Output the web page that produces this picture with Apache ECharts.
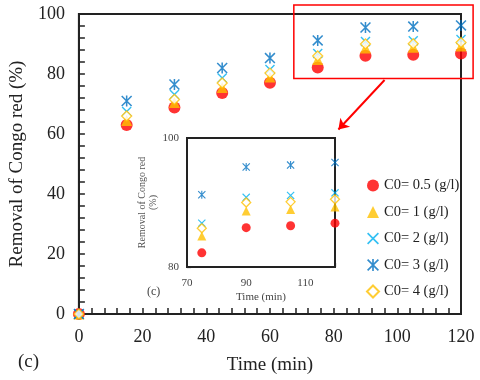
<!DOCTYPE html>
<html>
<head>
<meta charset="utf-8">
<script src="https://cdn.jsdelivr.net/npm/echarts@6/dist/echarts.min.js"></script>
<style>
  html, body { margin: 0; padding: 0; background: #fff; }
  #chart-container { width: 480px; height: 380px; }
</style>
</head>
<body>
<div id="chart-container"></div>
<script>
var dom = document.getElementById('chart-container');
var myChart = echarts.init(dom, null, { renderer: 'canvas' });

// time (min)
var times = [0, 15, 30, 45, 60, 75, 90, 105, 120];
// removal (%) for each initial dose
var c05 = [0, 63.0, 68.8, 73.7, 77.1, 82.2, 86.1, 86.4, 86.8];
var c1 = [0, 64.5, 70.5, 75.5, 79.0, 84.8, 88.7, 88.9, 89.3];
var c2 = [0, 67.5, 73.2, 78.7, 81.5, 86.8, 90.8, 91.1, 91.5];
var c3 = [0, 71.0, 76.5, 82.0, 85.3, 91.2, 95.5, 95.8, 96.2];
var c4 = [0, 66.0, 71.5, 77.0, 80.3, 86.0, 90.0, 90.1, 90.5];
var names = ['C0= 0.5 (g/l)', 'C0= 1 (g/l)', 'C0= 2 (g/l)', 'C0= 3 (g/l)', 'C0= 4 (g/l)'];

// zoom box (data units of the main plot) and arrow
var zoomBox = [[67.5, 103], [123.8, 78.5]];
var arrowFrom = [96, 78];
var arrowTo = [81.5, 61.5];

var crossPath = 'path://M0,1 L1,0 L10,9 L9,10 Z M9,0 L10,1 L1,10 L0,9 Z';
var starPath = 'path://M0,1 L1,0 L10,9 L9,10 Z M9,0 L10,1 L1,10 L0,9 Z M4.3,0 L5.7,0 L5.7,10 L4.3,10 Z';

var styles = [
  { symbol: 'circle', size: 12, inSize: 9, itemStyle: { color: '#ff0000' } },
  { symbol: 'triangle', size: 11, inSize: 9, itemStyle: { color: '#ffc000' } },
  { symbol: crossPath, size: 10, inSize: 8, itemStyle: { color: '#00b0f0' } },
  { symbol: starPath, size: 11, inSize: 8, itemStyle: { color: '#0070c0' } },
  { symbol: 'diamond', size: 10, inSize: 9, itemStyle: { color: '#fff', borderColor: '#ffc000', borderWidth: 1.3 } }
];
var values = [c05, c1, c2, c3, c4];

function pairs(arr, from) {
  var out = [];
  for (var i = 0; i < times.length; i++) {
    if (times[i] >= from) out.push([times[i], arr[i]]);
  }
  return out;
}

var serif = '"Liberation Serif", "DejaVu Serif", serif';
var series = [];
values.forEach(function (v, i) {
  series.push({
    type: 'scatter',
    name: names[i],
    xAxisIndex: 0,
    yAxisIndex: 0,
    data: pairs(v, 0),
    symbol: styles[i].symbol,
    symbolSize: styles[i].size,
    itemStyle: styles[i].itemStyle,
    clip: false,
    z: 3
  });
});
values.forEach(function (v, i) {
  series.push({
    type: 'scatter',
    name: names[i],
    xAxisIndex: 1,
    yAxisIndex: 1,
    data: pairs(v, 75),
    symbol: styles[i].symbol,
    symbolSize: styles[i].inSize,
    itemStyle: styles[i].itemStyle,
    clip: false,
    z: 6
  });
});

series[0].markLine = {
  silent: true,
  symbol: ['none', 'arrow'],
  symbolSize: 10,
  lineStyle: { color: '#ff0000', width: 2, type: 'solid' },
  label: { show: false },
  data: [[{ coord: arrowFrom }, { coord: arrowTo }]]
};

var axisCommon = {
  axisLine: { show: true, lineStyle: { color: '#222', width: 2 } },
  splitLine: { show: false }
};

var option = {
  animation: false,
  textStyle: { fontFamily: serif },
  grid: [
    { left: 78, right: 19, top: 14, bottom: 64, show: true, borderColor: '#222', borderWidth: 2 },
    { left: 187, right: 145, top: 138, bottom: 113, show: true, borderColor: '#222', borderWidth: 2, backgroundColor: '#fff', z: 5 }
  ],
  legend: {
    orient: 'vertical',
    left: 361,
    top: 173,
    itemWidth: 12,
    itemHeight: 12,
    itemGap: 11.5,
    data: names,
    textStyle: { fontFamily: serif, fontSize: 14.5, color: '#222' }
  },
  xAxis: [
    Object.assign({}, axisCommon, {
      type: 'value', gridIndex: 0, min: 0, max: 120, interval: 20,
      axisTick: { show: true, inside: true, length: 6, lineStyle: { color: '#222', width: 1.5 } },
      minorTick: { show: true, splitNumber: 5, length: 6, lineStyle: { color: '#222', width: 1.5 } },
      axisLabel: { fontFamily: serif, fontSize: 18, color: '#222', margin: 14 },
      name: 'Time (min)', nameLocation: 'middle', nameGap: 42,
      nameTextStyle: { fontFamily: serif, fontSize: 19, color: '#222' }
    }),
    Object.assign({}, axisCommon, {
      type: 'value', gridIndex: 1, min: 70, max: 120, interval: 20,
      axisLabel: { fontFamily: serif, fontSize: 11, color: '#444', margin: 11, showMaxLabel: false },
      axisTick: { show: true, inside: true, length: 4, lineStyle: { color: '#222', width: 1.2 } },
      minorTick: { show: true, splitNumber: 5, length: 4, lineStyle: { color: '#222', width: 1.2 } },
      name: 'Time (min)', nameLocation: 'middle', nameGap: 25,
      nameTextStyle: { fontFamily: serif, fontSize: 11, color: '#444' }
    })
  ],
  yAxis: [
    Object.assign({}, axisCommon, {
      type: 'value', gridIndex: 0, min: 0, max: 100, interval: 20,
      axisTick: { show: true, inside: true, length: 6, lineStyle: { color: '#222', width: 1.5 } },
      minorTick: { show: true, splitNumber: 5, length: 6, lineStyle: { color: '#222', width: 1.5 } },
      axisLabel: { fontFamily: serif, fontSize: 18, color: '#222', margin: 14 },
      name: 'Removal of Congo red (%)', nameLocation: 'middle', nameGap: 48,
      nameTextStyle: { fontFamily: serif, fontSize: 19, color: '#222' }
    }),
    Object.assign({}, axisCommon, {
      type: 'value', gridIndex: 1, min: 80, max: 100, interval: 20,
      axisTick: { show: true, inside: true, length: 4, lineStyle: { color: '#222', width: 1.2 } },
      minorTick: { show: true, splitNumber: 5, length: 4, lineStyle: { color: '#222', width: 1.2 } },
      axisLabel: { fontFamily: serif, fontSize: 11, color: '#444', margin: 8 },
      name: 'Removal of Congo red\n(%)', nameLocation: 'middle', nameGap: 26,
      nameTextStyle: { fontFamily: serif, fontSize: 10, color: '#555', lineHeight: 11 }
    })
  ],
  series: series
};

myChart.setOption(option);

// red zoom box, placed from data coords of the main plot
var p1 = myChart.convertToPixel({ gridIndex: 0 }, zoomBox[0]);
var p2 = myChart.convertToPixel({ gridIndex: 0 }, zoomBox[1]);
myChart.setOption({
  graphic: [
    {
      type: 'rect', z: 4, silent: true,
      shape: { x: p1[0], y: p1[1], width: p2[0] - p1[0], height: p2[1] - p1[1] },
      style: { fill: 'none', stroke: '#ff0000', lineWidth: 1.5 }
    },
    { type: 'text', left: 18, top: 353, style: { text: '(c)', font: '19px ' + serif, fill: '#222' } },
    { type: 'text', left: 147, top: 286, z: 10, style: { text: '(c)', font: '12px ' + serif, fill: '#444' } }
  ]
});

window.addEventListener('resize', myChart.resize);
</script>
</body>
</html>
